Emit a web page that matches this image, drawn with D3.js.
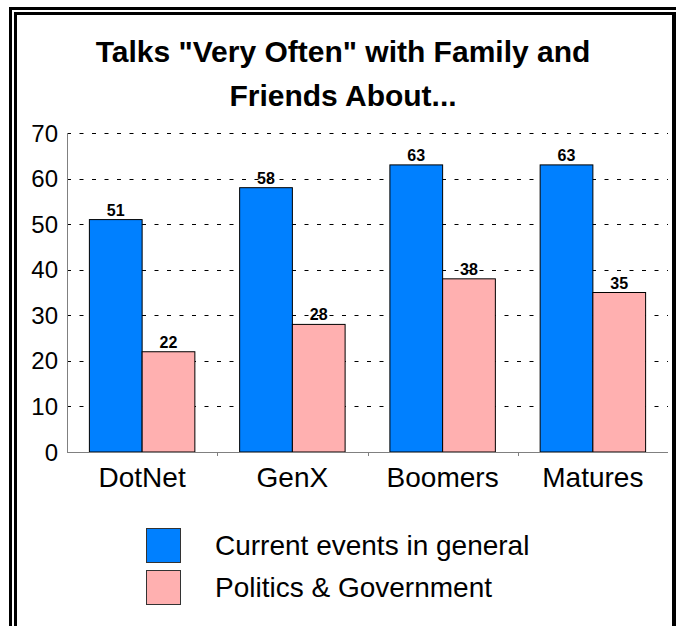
<!DOCTYPE html>
<html><head><meta charset="utf-8">
<script src="https://cdn.jsdelivr.net/npm/d3@7/dist/d3.min.js"></script>
<style>body{margin:0;background:#fff}svg{display:block}text{font-family:"Liberation Sans",Arial,sans-serif}</style>
</head><body>
<svg id="c" width="676" height="626"></svg>
<script>
const categories = ["DotNet", "GenX", "Boomers", "Matures"];
const seriesNames = ["Current events in general", "Politics & Government"];
const currentEvents = [51, 58, 63, 63];
const politics = [22, 28, 38, 35];
const yTicks = [0, 10, 20, 30, 40, 50, 60, 70];
const titleLines = ['Talks "Very Often" with Family and', 'Friends About...'];
const colors = ["#0080ff", "#ffb0b0"];

const series = [currentEvents, politics];
const svg = d3.select("#c");

// frame
const fr = svg.append("g").attr("fill", "#000");
fr.append("rect").attr("x", 9).attr("y", 7).attr("width", 667).attr("height", 3);
fr.append("rect").attr("x", 9).attr("y", 7).attr("width", 3).attr("height", 619);
fr.append("rect").attr("x", 14).attr("y", 12).attr("width", 662).attr("height", 3);
fr.append("rect").attr("x", 14).attr("y", 12).attr("width", 3).attr("height", 614);
fr.append("rect").attr("x", 672).attr("y", 12).attr("width", 4).attr("height", 614);

// title
svg.append("g").selectAll("text").data(titleLines).join("text")
  .attr("x", 343).attr("y", (d, i) => 62 + i * 44)
  .attr("text-anchor", "middle").attr("font-weight", "bold").attr("font-size", 30)
  .text(d => d);

const pL = 67, pR = 668, pT = 133, pB = 452;
const y = d3.scaleLinear().domain([0, 70]).range([pB, pT]);
const x0 = d3.scaleBand().domain(categories).range([pL, pR]).padding(0);
const groupW = x0.bandwidth() * 0.702;
const x1 = d3.scaleBand().domain(d3.range(series.length)).range([0, groupW]).padding(0);

// gridlines
svg.append("g").selectAll("line").data(yTicks.filter(t => t > 0)).join("line")
  .attr("x1", pL).attr("x2", pR)
  .attr("y1", d => Math.round(y(d)) + 0.5).attr("y2", d => Math.round(y(d)) + 0.5)
  .attr("stroke", "#000").attr("stroke-width", 1).attr("stroke-dasharray", "4,8.5");

// y tick labels
svg.append("g").selectAll("text").data(yTicks).join("text")
  .attr("x", 58).attr("y", d => y(d)).attr("dy", "0.36em")
  .attr("text-anchor", "end").attr("font-size", 24).text(d => d);

// bars
const groups = svg.append("g").selectAll("g").data(categories).join("g")
  .attr("transform", c => `translate(${x0(c) + (x0.bandwidth() - groupW) / 2},0)`);
groups.each(function(c, ci) {
  const g = d3.select(this);
  series.forEach((s, si) => {
    g.append("rect")
      .attr("x", x1(si)).attr("y", y(s[ci]))
      .attr("width", x1.bandwidth()).attr("height", pB - y(s[ci]))
      .attr("fill", colors[si]).attr("stroke", "#000").attr("stroke-width", 1);
    g.append("text")
      .attr("x", x1(si) + x1.bandwidth() / 2).attr("y", y(s[ci]) - 4)
      .attr("text-anchor", "middle").attr("font-weight", "bold").attr("font-size", 16)
      .text(s[ci]);
  });
});

// axes
svg.append("line").attr("x1", pL + 0.5).attr("x2", pL + 0.5).attr("y1", pT).attr("y2", pB)
  .attr("stroke", "#808080");
svg.append("line").attr("x1", pL).attr("x2", pR).attr("y1", pB + 0.5).attr("y2", pB + 0.5)
  .attr("stroke", "#808080");
svg.append("g").selectAll("line").data(categories.slice(1)).join("line")
  .attr("x1", c => Math.round(x0(c)) + 0.5).attr("x2", c => Math.round(x0(c)) + 0.5)
  .attr("y1", pB).attr("y2", pB + 4).attr("stroke", "#808080");

// category labels
svg.append("g").selectAll("text").data(categories).join("text")
  .attr("x", c => x0(c) + x0.bandwidth() / 2).attr("y", 487)
  .attr("text-anchor", "middle").attr("font-size", 28).text(c => c);

// legend
const lg = svg.append("g").selectAll("g").data(seriesNames).join("g")
  .attr("transform", (d, i) => `translate(146,${528 + i * 42})`);
lg.append("rect").attr("x", 0.5).attr("y", 0.5).attr("width", 34).attr("height", 34)
  .attr("fill", (d, i) => colors[i]).attr("stroke", "#333");
lg.append("text").attr("x", 69).attr("y", 27).attr("font-size", 28).text(d => d);
</script>
</body></html>
